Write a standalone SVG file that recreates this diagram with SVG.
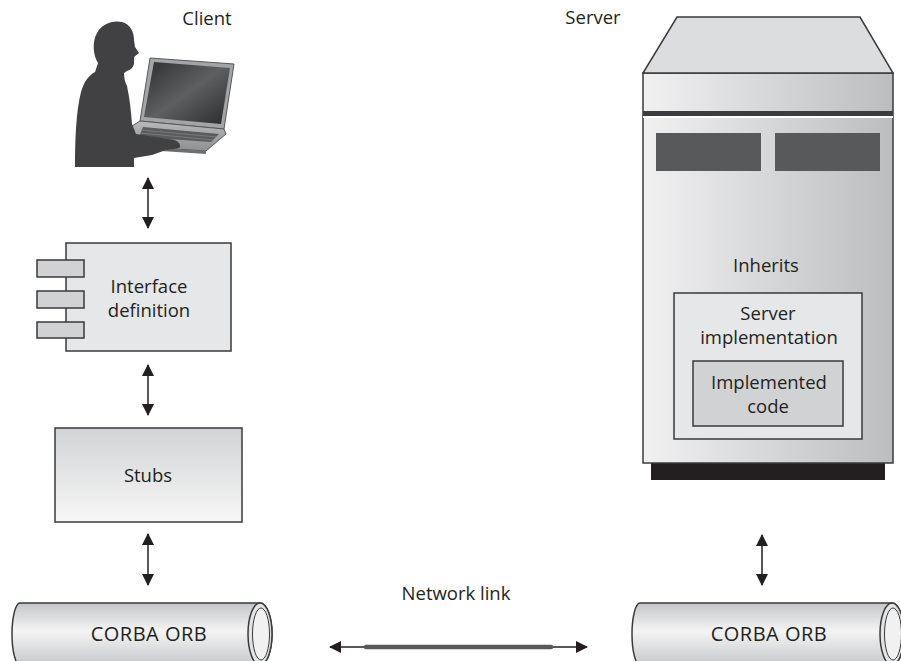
<svg xmlns="http://www.w3.org/2000/svg" width="901" height="661" viewBox="0 0 901 661">
  <style>
    text { font-family: "Open Sans", "Liberation Sans", sans-serif; font-size: 18.5px; fill: #231f20; }
    .mid { text-anchor: middle; }
    .orb { font-size: 20px; letter-spacing: 0.5px; }
    .edge { stroke: #231f20; stroke-width: 1.5; fill: none; }
    .box { stroke: #3a3a3a; stroke-width: 1.5; }
  </style>
  <defs>
    <marker id="head" viewBox="0 0 12 12" refX="11" refY="6" markerWidth="12" markerHeight="12" markerUnits="userSpaceOnUse" orient="auto-start-reverse">
      <path d="M0,0 L12,6 L0,12 Z" fill="#231f20"/>
    </marker>
    <linearGradient id="stubGrad" x1="0" y1="0" x2="0" y2="1">
      <stop offset="0" stop-color="#d2d3d5"/>
      <stop offset="1" stop-color="#f7f7f7"/>
    </linearGradient>
    <linearGradient id="tubeGrad" x1="0" y1="0" x2="0" y2="1">
      <stop offset="0" stop-color="#c4c5c7"/>
      <stop offset="0.45" stop-color="#f4f4f4"/>
      <stop offset="1" stop-color="#c8c9cb"/>
    </linearGradient>
    <linearGradient id="rackGrad" x1="0" y1="0" x2="1" y2="0">
      <stop offset="0" stop-color="#f1f1f2"/>
      <stop offset="1" stop-color="#bcbdbf"/>
    </linearGradient>
    <linearGradient id="screenGrad" x1="0" y1="0" x2="1" y2="1">
      <stop offset="0" stop-color="#2f2f31"/>
      <stop offset="0.5" stop-color="#5e5f61"/>
      <stop offset="1" stop-color="#2a2a2c"/>
    </linearGradient>
    <linearGradient id="baseGrad" x1="0" y1="0" x2="0" y2="1">
      <stop offset="0" stop-color="#b8b9bb"/>
      <stop offset="1" stop-color="#8e8f91"/>
    </linearGradient>
  </defs>

  <!-- Client: user at a laptop -->
  <g id="client">
    <text x="207" y="25" class="mid">Client</text>
    <!-- laptop lid -->
    <path d="M150,58 L234,64 L224,129 L140,121 Z" fill="#a3a4a6" stroke="#58595b" stroke-width="1"/>
    <path d="M154,62 L230,68 L221,124 L144,117 Z" fill="url(#screenGrad)"/>
    <!-- laptop base -->
    <path d="M140,121 L224,129 L226,134 L206,151 L131,146 L132,126 Z" fill="url(#baseGrad)" stroke="#58595b" stroke-width="1"/>
    <path d="M143,127 L219,134 L211,142 L139,137 Z" fill="#5a5b5d"/>
    <path d="M141,130 L217,137 M140,133 L214,140" stroke="#8e8f91" stroke-width="0.6"/>
    <path d="M131,146 L206,151 L206,154 L131,149 Z" fill="#6d6e70"/>
    <!-- person silhouette -->
    <path d="M98,63 C93,55 92,42 97,33 C102,24 112,20 122,22 C130,24 134,32 134,40 L135,47 L139,53 L134,57 L134,64 C133,68 130,70 127,71 L124,73 C124,78 125,82 127,86 C130,100 131,112 132,124 L136,134 L168,139 C176,139 181,143 180,147 C178,149 172,149 166,150 L152,155 L134,158 L134,167 L75,167 C75,140 76,112 81,92 C84,82 88,76 95,72 Z" fill="#414042"/>
  </g>

  <!-- Interface definition component -->
  <g id="interface">
    <rect x="66" y="243" width="165" height="108" fill="#e6e7e8" class="box"/>
    <rect x="37" y="260" width="47" height="17" fill="#d1d2d4" class="box"/>
    <rect x="37" y="291" width="47" height="17" fill="#d1d2d4" class="box"/>
    <rect x="37" y="322" width="47" height="16" fill="#d1d2d4" class="box"/>
    <text x="149" y="293" class="mid">Interface</text>
    <text x="149" y="317" class="mid">definition</text>
  </g>

  <!-- Stubs -->
  <g id="stubs">
    <rect x="55" y="428" width="187" height="94" fill="url(#stubGrad)" class="box"/>
    <text x="148" y="482" class="mid">Stubs</text>
  </g>

  <!-- Client-side ORB -->
  <g id="orb-client">
    <path d="M20,603 L260,603 A12,31 0 0 1 260,665 L20,665 A8,31 0 0 1 20,603 Z" fill="url(#tubeGrad)" class="box"/>
    <ellipse cx="260" cy="634" rx="12" ry="31" fill="#e3e4e5" class="box"/>
    <ellipse cx="261" cy="634" rx="8.5" ry="26" fill="#f1f1f2" stroke="#3a3a3a" stroke-width="1"/>
    <text x="149" y="641" class="mid orb">CORBA ORB</text>
  </g>

  <!-- Server rack -->
  <g id="server">
    <text x="593" y="24" class="mid">Server</text>
    <rect x="651" y="462" width="234" height="18" fill="#231f20"/>
    <rect x="643" y="73" width="250" height="390" fill="url(#rackGrad)" class="box"/>
    <polygon points="677,17 860,17 893,73 643,73" fill="#dcdddf" class="box"/>
    <rect x="643" y="111" width="250" height="5" fill="#3c3c3e"/>
    <rect x="643" y="116" width="250" height="2" fill="#ffffff"/>
    <rect x="656" y="133" width="105" height="38" fill="#58595b"/>
    <rect x="775" y="133" width="105" height="38" fill="#58595b"/>
    <text x="766" y="272" class="mid">Inherits</text>
  </g>

  <!-- Server implementation -->
  <g id="server-impl">
    <rect x="674" y="293" width="188" height="146" fill="#e6e7e8" class="box"/>
    <text x="768" y="320" class="mid">Server</text>
    <text x="769" y="344" class="mid">implementation</text>
  </g>

  <!-- Implemented code -->
  <g id="impl-code">
    <rect x="693" y="361" width="150" height="65" fill="#d1d2d4" class="box"/>
    <text x="769" y="389" class="mid">Implemented</text>
    <text x="768" y="413" class="mid">code</text>
  </g>

  <!-- Server-side ORB -->
  <g id="orb-server">
    <path d="M640,603 L892,603 A12,31 0 0 1 892,665 L640,665 A8,31 0 0 1 640,603 Z" fill="url(#tubeGrad)" class="box"/>
    <ellipse cx="892" cy="634" rx="12" ry="31" fill="#e3e4e5" class="box"/>
    <ellipse cx="893" cy="634" rx="8.5" ry="26" fill="#f1f1f2" stroke="#3a3a3a" stroke-width="1"/>
    <text x="769" y="641" class="mid orb">CORBA ORB</text>
  </g>

  <!-- Connectors -->
  <g id="connectors">
    <line x1="148" y1="178" x2="148" y2="228" class="edge" marker-start="url(#head)" marker-end="url(#head)"/>
    <line x1="148" y1="365" x2="148" y2="415" class="edge" marker-start="url(#head)" marker-end="url(#head)"/>
    <line x1="148" y1="534" x2="148" y2="585" class="edge" marker-start="url(#head)" marker-end="url(#head)"/>
    <line x1="762" y1="535" x2="762" y2="585" class="edge" marker-start="url(#head)" marker-end="url(#head)"/>
    <line x1="330" y1="647" x2="587" y2="647" class="edge" marker-start="url(#head)" marker-end="url(#head)"/>
    <line x1="366" y1="647" x2="551" y2="647" stroke="#58595b" stroke-width="4.5" stroke-linecap="round"/>
    <text x="456" y="600" class="mid">Network link</text>
  </g>
</svg>
